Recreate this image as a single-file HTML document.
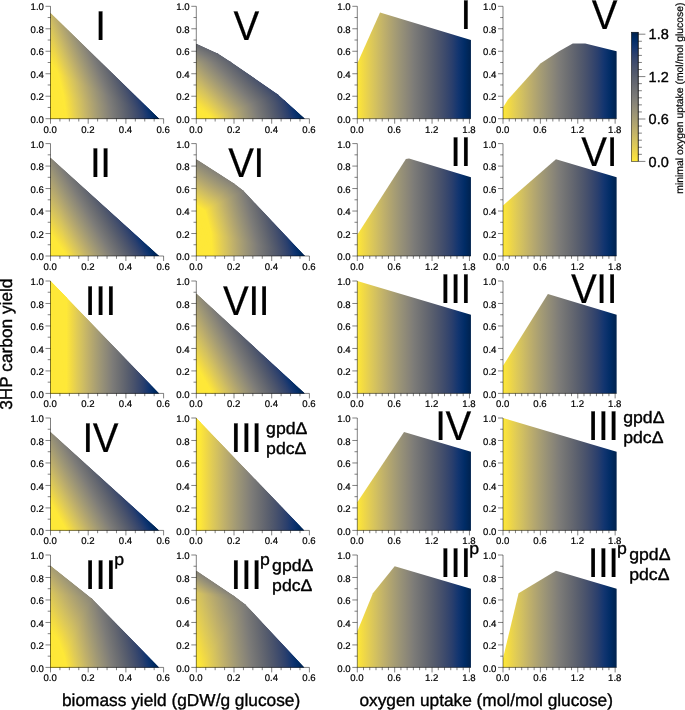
<!DOCTYPE html>
<html><head><meta charset="utf-8"><title>3HP yield phase planes</title>
<style>
html,body{margin:0;padding:0;background:#fff}
svg{display:block}
text{font-family:"Liberation Sans",sans-serif;fill:#000;text-rendering:geometricPrecision}
.tk text{font-size:9.6px;stroke:#000;stroke-width:0.2px}
.big{font-size:41.5px;letter-spacing:-0.430px;stroke:#000;stroke-width:0.2px}
.sm{font-size:16.7px;stroke:#000;stroke-width:0.35px}
.cbt{font-size:14.5px;stroke:#000;stroke-width:0.35px}
.cbl{font-size:10.4px;stroke:#000;stroke-width:0.2px}
.al{font-size:17.3px;stroke:#000;stroke-width:0.35px}
</style></head>
<body>
<svg width="685" height="710" viewBox="0 0 685 710">
<rect width="685" height="710" fill="#fff"/>
<defs><linearGradient id="cv"><stop offset="0" stop-color="#fee838"/><stop offset="0.05556" stop-color="#f1d945"/><stop offset="0.1111" stop-color="#e1cc55"/><stop offset="0.1667" stop-color="#d2c060"/><stop offset="0.2222" stop-color="#c3b369"/><stop offset="0.2778" stop-color="#b4a76f"/><stop offset="0.3333" stop-color="#a59c74"/><stop offset="0.3889" stop-color="#979177"/><stop offset="0.4444" stop-color="#8a8678"/><stop offset="0.5" stop-color="#7c7b78"/><stop offset="0.5556" stop-color="#707173"/><stop offset="0.6111" stop-color="#646770"/><stop offset="0.6667" stop-color="#575d6d"/><stop offset="0.7222" stop-color="#4a536c"/><stop offset="0.7778" stop-color="#3b496c"/><stop offset="0.8333" stop-color="#2a3f6d"/><stop offset="0.8889" stop-color="#123570"/><stop offset="0.9444" stop-color="#002c66"/><stop offset="1" stop-color="#00224e"/></linearGradient>
<clipPath id="c0_0"><polygon points="50.50,118.70 50.50,12.93 159.08,118.70"/></clipPath>
<linearGradient id="g1" href="#cv" gradientUnits="userSpaceOnUse" x1="30.25" y1="-7.77" x2="122.37" y2="-31.43"/>
<linearGradient id="g2" href="#cv" gradientUnits="userSpaceOnUse" x1="5.91" y1="-3.97" x2="115.99" y2="-77.81"/>
<linearGradient id="g3" href="#cv" gradientUnits="userSpaceOnUse" x1="24.01" y1="-9.78" x2="94.96" y2="-38.69"/>
<linearGradient id="g4" href="#cv" gradientUnits="userSpaceOnUse" x1="50.79" y1="-6.39" x2="141.90" y2="-17.85"/>
<linearGradient id="g5" href="#cv" gradientUnits="userSpaceOnUse" x1="37.14" y1="-9.34" x2="121.53" y2="-30.57"/>
<clipPath id="c0_1"><polygon points="196.30,118.70 196.30,43.73 218.07,53.73 230.42,61.71 277.54,94.20 284.89,100.72 304.88,118.70"/></clipPath>
<linearGradient id="g6" href="#cv" gradientUnits="userSpaceOnUse" x1="55.09" y1="-49.26" x2="116.33" y2="-104.01"/>
<linearGradient id="g7" href="#cv" gradientUnits="userSpaceOnUse" x1="14.22" y1="-20.27" x2="98.56" y2="-140.50"/>
<linearGradient id="g8" href="#cv" gradientUnits="userSpaceOnUse" x1="30.18" y1="-35.62" x2="92.40" y2="-109.06"/>
<linearGradient id="g9" href="#cv" gradientUnits="userSpaceOnUse" x1="9.93" y1="-17.49" x2="42.21" y2="-74.33"/>
<linearGradient id="g10" href="#cv" gradientUnits="userSpaceOnUse" x1="31.85" y1="-39.24" x2="77.41" y2="-95.36"/>
<linearGradient id="g11" href="#cv" gradientUnits="userSpaceOnUse" x1="50.47" y1="-48.77" x2="108.95" y2="-105.29"/>
<linearGradient id="g12" href="#cv" gradientUnits="userSpaceOnUse" x1="5.66" y1="-11.52" x2="30.36" y2="-61.83"/>
<linearGradient id="g13" href="#cv" gradientUnits="userSpaceOnUse" x1="52.99" y1="-50.04" x2="111.75" y2="-105.52"/>
<linearGradient id="g14" href="#cv" gradientUnits="userSpaceOnUse" x1="126.88" y1="-60.50" x2="205.70" y2="-98.08"/>
<linearGradient id="g15" href="#cv" gradientUnits="userSpaceOnUse" x1="165.77" y1="-46.67" x2="251.53" y2="-70.81"/>
<linearGradient id="g16" href="#cv" gradientUnits="userSpaceOnUse" x1="357.30" y1="0" x2="470.94" y2="0"/>
<linearGradient id="g17" href="#cv" gradientUnits="userSpaceOnUse" x1="503.00" y1="0" x2="616.64" y2="0"/>
<clipPath id="c1_0"><polygon points="50.50,256.00 50.50,157.76 159.08,256.00"/></clipPath>
<linearGradient id="g18" href="#cv" gradientUnits="userSpaceOnUse" x1="-59.97" y1="31.90" x2="18.71" y2="-9.95"/>
<linearGradient id="g19" href="#cv" gradientUnits="userSpaceOnUse" x1="-76.88" y1="54.80" x2="4.75" y2="-3.39"/>
<linearGradient id="g20" href="#cv" gradientUnits="userSpaceOnUse" x1="-60.82" y1="35.05" x2="8.66" y2="-4.99"/>
<clipPath id="c1_1"><polygon points="196.30,256.00 196.30,159.34 234.00,183.50 243.43,190.81 304.88,256.00"/></clipPath>
<linearGradient id="g21" href="#cv" gradientUnits="userSpaceOnUse" x1="88.57" y1="-36.98" x2="175.81" y2="-73.40"/>
<linearGradient id="g22" href="#cv" gradientUnits="userSpaceOnUse" x1="-36.16" y1="56.41" x2="8.77" y2="-13.68"/>
<linearGradient id="g23" href="#cv" gradientUnits="userSpaceOnUse" x1="-34.70" y1="52.37" x2="11.63" y2="-17.56"/>
<linearGradient id="g24" href="#cv" gradientUnits="userSpaceOnUse" x1="12.94" y1="-11.17" x2="78.09" y2="-67.42"/>
<linearGradient id="g25" href="#cv" gradientUnits="userSpaceOnUse" x1="135.97" y1="-37.63" x2="219.26" y2="-60.67"/>
<linearGradient id="g26" href="#cv" gradientUnits="userSpaceOnUse" x1="141.26" y1="-36.49" x2="223.82" y2="-57.81"/>
<linearGradient id="g27" href="#cv" gradientUnits="userSpaceOnUse" x1="196.62" y1="-11.54" x2="288.85" y2="-16.95"/>
<linearGradient id="g28" href="#cv" gradientUnits="userSpaceOnUse" x1="357.30" y1="0" x2="470.94" y2="0"/>
<linearGradient id="g29" href="#cv" gradientUnits="userSpaceOnUse" x1="503.00" y1="0" x2="616.64" y2="0"/>
<clipPath id="c2_0"><polygon points="50.50,393.40 50.50,281.00 159.08,393.40"/></clipPath>
<linearGradient id="g30" href="#cv" gradientUnits="userSpaceOnUse" x1="57.87" y1="-0.00" x2="161.63" y2="-0.00"/>
<linearGradient id="g31" href="#cv" gradientUnits="userSpaceOnUse" x1="66.52" y1="-0.00" x2="159.08" y2="-0.00"/>
<clipPath id="c2_1"><polygon points="196.30,393.40 196.30,293.59 304.88,393.40"/></clipPath>
<linearGradient id="g32" href="#cv" gradientUnits="userSpaceOnUse" x1="14.51" y1="-6.91" x2="96.50" y2="-45.99"/>
<linearGradient id="g33" href="#cv" gradientUnits="userSpaceOnUse" x1="-12.38" y1="7.20" x2="67.21" y2="-39.10"/>
<linearGradient id="g34" href="#cv" gradientUnits="userSpaceOnUse" x1="4.05" y1="-2.13" x2="76.51" y2="-40.29"/>
<linearGradient id="g35" href="#cv" gradientUnits="userSpaceOnUse" x1="357.30" y1="0" x2="470.94" y2="0"/>
<linearGradient id="g36" href="#cv" gradientUnits="userSpaceOnUse" x1="503.00" y1="0" x2="616.64" y2="0"/>
<clipPath id="c3_0"><polygon points="50.50,530.40 50.50,432.05 159.08,530.40"/></clipPath>
<linearGradient id="g37" href="#cv" gradientUnits="userSpaceOnUse" x1="-164.20" y1="82.00" x2="-83.88" y2="41.89"/>
<linearGradient id="g38" href="#cv" gradientUnits="userSpaceOnUse" x1="-178.03" y1="101.51" x2="-104.51" y2="59.59"/>
<linearGradient id="g39" href="#cv" gradientUnits="userSpaceOnUse" x1="-172.86" y1="95.05" x2="-101.79" y2="55.97"/>
<clipPath id="c3_1"><polygon points="196.30,530.40 196.30,418.00 304.31,530.40"/></clipPath>
<linearGradient id="g40" href="#cv" gradientUnits="userSpaceOnUse" x1="198.15" y1="0.00" x2="304.44" y2="0.00"/>
<linearGradient id="g41" href="#cv" gradientUnits="userSpaceOnUse" x1="200.07" y1="-0.00" x2="304.31" y2="-0.00"/>
<linearGradient id="g42" href="#cv" gradientUnits="userSpaceOnUse" x1="357.30" y1="0" x2="470.94" y2="0"/>
<linearGradient id="g43" href="#cv" gradientUnits="userSpaceOnUse" x1="503.00" y1="0" x2="616.64" y2="0"/>
<clipPath id="c4_0"><polygon points="50.50,667.40 50.50,565.68 91.97,598.84 159.08,667.40"/></clipPath>
<linearGradient id="g44" href="#cv" gradientUnits="userSpaceOnUse" x1="-155.44" y1="55.29" x2="-64.88" y2="23.08"/>
<linearGradient id="g45" href="#cv" gradientUnits="userSpaceOnUse" x1="-281.23" y1="235.82" x2="-143.95" y2="120.71"/>
<linearGradient id="g46" href="#cv" gradientUnits="userSpaceOnUse" x1="-272.96" y1="231.52" x2="-202.17" y2="171.47"/>
<linearGradient id="g47" href="#cv" gradientUnits="userSpaceOnUse" x1="-219.78" y1="116.55" x2="-120.15" y2="63.72"/>
<linearGradient id="g48" href="#cv" gradientUnits="userSpaceOnUse" x1="-81.82" y1="18.71" x2="7.29" y2="-1.67"/>
<linearGradient id="g49" href="#cv" gradientUnits="userSpaceOnUse" x1="-77.14" y1="17.04" x2="11.10" y2="-2.45"/>
<linearGradient id="g50" href="#cv" gradientUnits="userSpaceOnUse" x1="-165.08" y1="63.89" x2="-65.89" y2="25.50"/>
<clipPath id="c4_1"><polygon points="196.30,667.40 196.30,570.74 234.00,596.03 245.31,604.46 304.31,667.40"/></clipPath>
<linearGradient id="g51" href="#cv" gradientUnits="userSpaceOnUse" x1="-37.33" y1="13.47" x2="63.49" y2="-22.91"/>
<linearGradient id="g52" href="#cv" gradientUnits="userSpaceOnUse" x1="-67.82" y1="28.44" x2="101.78" y2="-42.67"/>
<linearGradient id="g53" href="#cv" gradientUnits="userSpaceOnUse" x1="-217.86" y1="324.76" x2="-186.24" y2="277.63"/>
<linearGradient id="g54" href="#cv" gradientUnits="userSpaceOnUse" x1="-187.80" y1="160.20" x2="-125.68" y2="107.21"/>
<linearGradient id="g55" href="#cv" gradientUnits="userSpaceOnUse" x1="11.35" y1="-3.19" x2="127.00" y2="-35.74"/>
<linearGradient id="g56" href="#cv" gradientUnits="userSpaceOnUse" x1="120.63" y1="-14.06" x2="223.47" y2="-26.05"/>
<linearGradient id="g57" href="#cv" gradientUnits="userSpaceOnUse" x1="357.30" y1="0" x2="470.94" y2="0"/>
<linearGradient id="g58" href="#cv" gradientUnits="userSpaceOnUse" x1="503.00" y1="0" x2="616.64" y2="0"/>
<linearGradient id="cb" href="#cv" gradientUnits="userSpaceOnUse" x1="0" y1="161.40" x2="0" y2="32.50"/></defs>
<g clip-path="url(#c0_0)"><polygon points="50.50,118.70 50.50,12.93 159.08,118.70" fill="url(#g1)"/><polygon points="50.50,118.70 50.50,62.50 66.52,118.70" fill="#fee838" stroke="#fee838" stroke-width="1.6"/><polygon points="50.50,118.70 50.50,62.50 63.70,96.22" fill="#fee838" stroke="#fee838" stroke-width="1.6"/><polygon points="50.50,118.70 50.50,62.50 58.04,73.74" fill="#fee838" stroke="#fee838" stroke-width="1.6"/><polygon points="50.50,118.70 66.52,118.70 63.70,96.22" fill="#fee838" stroke="#fee838" stroke-width="1.6"/><polygon points="50.50,118.70 66.52,118.70 58.04,73.74" fill="#fee838" stroke="#fee838" stroke-width="1.6"/><polygon points="50.50,118.70 63.70,96.22 58.04,73.74" fill="#fee838" stroke="#fee838" stroke-width="1.6"/><polygon points="50.50,62.50 50.50,12.93 58.04,73.74" fill="url(#g2)" stroke="url(#g2)" stroke-width="1.6"/><polygon points="50.50,62.50 66.52,118.70 63.70,96.22" fill="#fee838" stroke="#fee838" stroke-width="1.6"/><polygon points="50.50,62.50 66.52,118.70 58.04,73.74" fill="#fee838" stroke="#fee838" stroke-width="1.6"/><polygon points="50.50,62.50 63.70,96.22 58.04,73.74" fill="#fee838" stroke="#fee838" stroke-width="1.6"/><polygon points="50.50,12.93 58.04,73.74 159.08,118.70" fill="url(#g3)" stroke="url(#g3)" stroke-width="1.6"/><polygon points="66.52,118.70 63.70,96.22 58.04,73.74" fill="#fee838" stroke="#fee838" stroke-width="1.6"/><polygon points="66.52,118.70 63.70,96.22 159.08,118.70" fill="url(#g4)" stroke="url(#g4)" stroke-width="1.6"/><polygon points="63.70,96.22 58.04,73.74 159.08,118.70" fill="url(#g5)" stroke="url(#g5)" stroke-width="1.6"/></g>
<path d="M50.50 6.30V118.70H163.60M50.50 118.70h-5.0M50.50 107.46h-2.8M50.50 96.22h-5.0M50.50 84.98h-2.8M50.50 73.74h-5.0M50.50 62.50h-2.8M50.50 51.26h-5.0M50.50 40.02h-2.8M50.50 28.78h-5.0M50.50 17.54h-2.8M50.50 6.30h-5.0M50.50 118.70v5.0M59.92 118.70v2.8M69.35 118.70v2.8M78.78 118.70v2.8M88.20 118.70v5.0M97.62 118.70v2.8M107.05 118.70v2.8M116.47 118.70v2.8M125.90 118.70v5.0M135.32 118.70v2.8M144.75 118.70v2.8M154.17 118.70v2.8M163.60 118.70v5.0" fill="none" stroke="#000" stroke-width="0.5"/><g class="tk"><text x="43.90" y="122.80" text-anchor="end">0.0</text><text x="43.90" y="100.32" text-anchor="end">0.2</text><text x="43.90" y="77.84" text-anchor="end">0.4</text><text x="43.90" y="55.36" text-anchor="end">0.6</text><text x="43.90" y="32.88" text-anchor="end">0.8</text><text x="43.90" y="10.40" text-anchor="end">1.0</text><text x="50.10" y="132.60" text-anchor="middle">0.0</text><text x="87.80" y="132.60" text-anchor="middle">0.2</text><text x="125.50" y="132.60" text-anchor="middle">0.4</text><text x="163.20" y="132.60" text-anchor="middle">0.6</text></g>
<text class="big" transform="translate(95.14 39.90) scale(0.930 1)">I</text>
<g clip-path="url(#c0_1)"><polygon points="196.30,118.70 196.30,43.73 218.07,53.73 230.42,61.71 277.54,94.20 284.89,100.72 304.88,118.70" fill="url(#g6)"/><polygon points="196.30,118.70 196.30,107.46 212.32,118.70" fill="#fee838" stroke="#fee838" stroke-width="1.6"/><polygon points="196.30,107.46 196.30,99.59 212.32,118.70" fill="url(#g7)" stroke="url(#g7)" stroke-width="1.6"/><polygon points="196.30,99.59 196.30,63.62 212.32,118.70" fill="url(#g8)" stroke="url(#g8)" stroke-width="1.6"/><polygon points="196.30,63.62 196.30,51.26 218.07,53.73" fill="url(#g9)" stroke="url(#g9)" stroke-width="1.6"/><polygon points="196.30,63.62 218.07,53.73 230.42,61.71" fill="url(#g10)" stroke="url(#g10)" stroke-width="1.6"/><polygon points="196.30,63.62 230.42,61.71 212.32,118.70" fill="url(#g11)" stroke="url(#g11)" stroke-width="1.6"/><polygon points="196.30,51.26 196.30,43.73 218.07,53.73" fill="url(#g12)" stroke="url(#g12)" stroke-width="1.6"/><polygon points="230.42,61.71 277.54,94.20 212.32,118.70" fill="url(#g13)" stroke="url(#g13)" stroke-width="1.6"/><polygon points="277.54,94.20 284.89,100.72 212.32,118.70" fill="url(#g14)" stroke="url(#g14)" stroke-width="1.6"/><polygon points="284.89,100.72 212.32,118.70 304.88,118.70" fill="url(#g15)" stroke="url(#g15)" stroke-width="1.6"/></g>
<path d="M196.30 6.30V118.70H309.40M196.30 118.70h-5.0M196.30 107.46h-2.8M196.30 96.22h-5.0M196.30 84.98h-2.8M196.30 73.74h-5.0M196.30 62.50h-2.8M196.30 51.26h-5.0M196.30 40.02h-2.8M196.30 28.78h-5.0M196.30 17.54h-2.8M196.30 6.30h-5.0M196.30 118.70v5.0M205.73 118.70v2.8M215.15 118.70v2.8M224.58 118.70v2.8M234.00 118.70v5.0M243.43 118.70v2.8M252.85 118.70v2.8M262.27 118.70v2.8M271.70 118.70v5.0M281.12 118.70v2.8M290.55 118.70v2.8M299.98 118.70v2.8M309.40 118.70v5.0" fill="none" stroke="#000" stroke-width="0.5"/><g class="tk"><text x="189.70" y="122.80" text-anchor="end">0.0</text><text x="189.70" y="100.32" text-anchor="end">0.2</text><text x="189.70" y="77.84" text-anchor="end">0.4</text><text x="189.70" y="55.36" text-anchor="end">0.6</text><text x="189.70" y="32.88" text-anchor="end">0.8</text><text x="189.70" y="10.40" text-anchor="end">1.0</text><text x="195.90" y="132.60" text-anchor="middle">0.0</text><text x="233.60" y="132.60" text-anchor="middle">0.2</text><text x="271.30" y="132.60" text-anchor="middle">0.4</text><text x="309.00" y="132.60" text-anchor="middle">0.6</text></g>
<text class="big" transform="translate(233.43 39.90) scale(0.930 1)">V</text>
<polygon points="357.30,118.70 357.30,63.62 380.04,12.59 470.94,40.02 470.94,118.70" fill="url(#g16)"/>
<path d="M357.30 6.30V118.70H470.94M357.30 118.70h-5.0M357.30 107.46h-2.8M357.30 96.22h-5.0M357.30 84.98h-2.8M357.30 73.74h-5.0M357.30 62.50h-2.8M357.30 51.26h-5.0M357.30 40.02h-2.8M357.30 28.78h-5.0M357.30 17.54h-2.8M357.30 6.30h-5.0M357.30 118.70v5.0M363.53 118.70v2.8M369.76 118.70v2.8M375.99 118.70v2.8M382.22 118.70v2.8M388.45 118.70v2.8M394.68 118.70v5.0M400.91 118.70v2.8M407.14 118.70v2.8M413.37 118.70v2.8M419.60 118.70v2.8M425.83 118.70v2.8M432.06 118.70v5.0M438.29 118.70v2.8M444.52 118.70v2.8M450.75 118.70v2.8M456.98 118.70v2.8M463.21 118.70v2.8M469.44 118.70v5.0" fill="none" stroke="#000" stroke-width="0.5"/><g class="tk"><text x="350.70" y="122.80" text-anchor="end">0.0</text><text x="350.70" y="100.32" text-anchor="end">0.2</text><text x="350.70" y="77.84" text-anchor="end">0.4</text><text x="350.70" y="55.36" text-anchor="end">0.6</text><text x="350.70" y="32.88" text-anchor="end">0.8</text><text x="350.70" y="10.40" text-anchor="end">1.0</text><text x="356.90" y="132.60" text-anchor="middle">0.0</text><text x="394.28" y="132.60" text-anchor="middle">0.6</text><text x="431.66" y="132.60" text-anchor="middle">1.2</text><text x="469.04" y="132.60" text-anchor="middle">1.8</text></g>
<text class="big" transform="translate(460.57 28.70) scale(0.930 1)">I</text>
<polygon points="503.00,118.70 503.00,107.46 507.98,99.59 540.38,63.62 559.07,51.26 572.78,43.39 585.24,43.39 616.64,51.26 616.64,118.70" fill="url(#g17)"/>
<path d="M503.00 6.30V118.70H616.64M503.00 118.70h-5.0M503.00 107.46h-2.8M503.00 96.22h-5.0M503.00 84.98h-2.8M503.00 73.74h-5.0M503.00 62.50h-2.8M503.00 51.26h-5.0M503.00 40.02h-2.8M503.00 28.78h-5.0M503.00 17.54h-2.8M503.00 6.30h-5.0M503.00 118.70v5.0M509.23 118.70v2.8M515.46 118.70v2.8M521.69 118.70v2.8M527.92 118.70v2.8M534.15 118.70v2.8M540.38 118.70v5.0M546.61 118.70v2.8M552.84 118.70v2.8M559.07 118.70v2.8M565.30 118.70v2.8M571.53 118.70v2.8M577.76 118.70v5.0M583.99 118.70v2.8M590.22 118.70v2.8M596.45 118.70v2.8M602.68 118.70v2.8M608.91 118.70v2.8M615.14 118.70v5.0" fill="none" stroke="#000" stroke-width="0.5"/><g class="tk"><text x="496.40" y="122.80" text-anchor="end">0.0</text><text x="496.40" y="100.32" text-anchor="end">0.2</text><text x="496.40" y="77.84" text-anchor="end">0.4</text><text x="496.40" y="55.36" text-anchor="end">0.6</text><text x="496.40" y="32.88" text-anchor="end">0.8</text><text x="496.40" y="10.40" text-anchor="end">1.0</text><text x="502.60" y="132.60" text-anchor="middle">0.0</text><text x="539.98" y="132.60" text-anchor="middle">0.6</text><text x="577.36" y="132.60" text-anchor="middle">1.2</text><text x="614.74" y="132.60" text-anchor="middle">1.8</text></g>
<text class="big" transform="translate(591.66 28.70) scale(0.930 1)">V</text>
<g clip-path="url(#c1_0)"><polygon points="50.50,256.00 50.50,157.76 159.08,256.00" fill="url(#g18)"/><polygon points="50.50,256.00 50.50,233.52 66.52,256.00" fill="#fee838" stroke="#fee838" stroke-width="1.6"/><polygon points="50.50,233.52 50.50,157.76 66.52,256.00" fill="url(#g19)" stroke="url(#g19)" stroke-width="1.6"/><polygon points="50.50,157.76 66.52,256.00 159.08,256.00" fill="url(#g20)" stroke="url(#g20)" stroke-width="1.6"/></g>
<path d="M50.50 143.60V256.00H163.60M50.50 256.00h-5.0M50.50 244.76h-2.8M50.50 233.52h-5.0M50.50 222.28h-2.8M50.50 211.04h-5.0M50.50 199.80h-2.8M50.50 188.56h-5.0M50.50 177.32h-2.8M50.50 166.08h-5.0M50.50 154.84h-2.8M50.50 143.60h-5.0M50.50 256.00v5.0M59.92 256.00v2.8M69.35 256.00v2.8M78.78 256.00v2.8M88.20 256.00v5.0M97.62 256.00v2.8M107.05 256.00v2.8M116.47 256.00v2.8M125.90 256.00v5.0M135.32 256.00v2.8M144.75 256.00v2.8M154.17 256.00v2.8M163.60 256.00v5.0" fill="none" stroke="#000" stroke-width="0.5"/><g class="tk"><text x="43.90" y="260.10" text-anchor="end">0.0</text><text x="43.90" y="237.62" text-anchor="end">0.2</text><text x="43.90" y="215.14" text-anchor="end">0.4</text><text x="43.90" y="192.66" text-anchor="end">0.6</text><text x="43.90" y="170.18" text-anchor="end">0.8</text><text x="43.90" y="147.70" text-anchor="end">1.0</text><text x="50.10" y="269.90" text-anchor="middle">0.0</text><text x="87.80" y="269.90" text-anchor="middle">0.2</text><text x="125.50" y="269.90" text-anchor="middle">0.4</text><text x="163.20" y="269.90" text-anchor="middle">0.6</text></g>
<text class="big" transform="translate(89.97 177.20) scale(0.930 1)">II</text>
<g clip-path="url(#c1_1)"><polygon points="196.30,256.00 196.30,159.34 234.00,183.50 243.43,190.81 304.88,256.00" fill="url(#g21)"/><polygon points="196.30,256.00 196.30,205.42 212.32,256.00" fill="#fee838" stroke="#fee838" stroke-width="1.6"/><polygon points="196.30,256.00 196.30,205.42 211.00,233.52" fill="#fee838" stroke="#fee838" stroke-width="1.6"/><polygon points="196.30,256.00 196.30,205.42 204.78,211.04" fill="#fee838" stroke="#fee838" stroke-width="1.6"/><polygon points="196.30,256.00 212.32,256.00 211.00,233.52" fill="#fee838" stroke="#fee838" stroke-width="1.6"/><polygon points="196.30,256.00 212.32,256.00 204.78,211.04" fill="#fee838" stroke="#fee838" stroke-width="1.6"/><polygon points="196.30,256.00 211.00,233.52 204.78,211.04" fill="#fee838" stroke="#fee838" stroke-width="1.6"/><polygon points="196.30,205.42 196.30,159.34 234.00,183.50" fill="url(#g22)" stroke="url(#g22)" stroke-width="1.6"/><polygon points="196.30,205.42 234.00,183.50 204.78,211.04" fill="url(#g23)" stroke="url(#g23)" stroke-width="1.6"/><polygon points="196.30,205.42 212.32,256.00 211.00,233.52" fill="#fee838" stroke="#fee838" stroke-width="1.6"/><polygon points="196.30,205.42 212.32,256.00 204.78,211.04" fill="#fee838" stroke="#fee838" stroke-width="1.6"/><polygon points="196.30,205.42 211.00,233.52 204.78,211.04" fill="#fee838" stroke="#fee838" stroke-width="1.6"/><polygon points="234.00,183.50 243.43,190.81 204.78,211.04" fill="url(#g24)" stroke="url(#g24)" stroke-width="1.6"/><polygon points="243.43,190.81 211.00,233.52 204.78,211.04" fill="url(#g25)" stroke="url(#g25)" stroke-width="1.6"/><polygon points="243.43,190.81 211.00,233.52 304.88,256.00" fill="url(#g26)" stroke="url(#g26)" stroke-width="1.6"/><polygon points="212.32,256.00 211.00,233.52 204.78,211.04" fill="#fee838" stroke="#fee838" stroke-width="1.6"/><polygon points="212.32,256.00 211.00,233.52 304.88,256.00" fill="url(#g27)" stroke="url(#g27)" stroke-width="1.6"/></g>
<path d="M196.30 143.60V256.00H309.40M196.30 256.00h-5.0M196.30 244.76h-2.8M196.30 233.52h-5.0M196.30 222.28h-2.8M196.30 211.04h-5.0M196.30 199.80h-2.8M196.30 188.56h-5.0M196.30 177.32h-2.8M196.30 166.08h-5.0M196.30 154.84h-2.8M196.30 143.60h-5.0M196.30 256.00v5.0M205.73 256.00v2.8M215.15 256.00v2.8M224.58 256.00v2.8M234.00 256.00v5.0M243.43 256.00v2.8M252.85 256.00v2.8M262.27 256.00v2.8M271.70 256.00v5.0M281.12 256.00v2.8M290.55 256.00v2.8M299.98 256.00v2.8M309.40 256.00v5.0" fill="none" stroke="#000" stroke-width="0.5"/><g class="tk"><text x="189.70" y="260.10" text-anchor="end">0.0</text><text x="189.70" y="237.62" text-anchor="end">0.2</text><text x="189.70" y="215.14" text-anchor="end">0.4</text><text x="189.70" y="192.66" text-anchor="end">0.6</text><text x="189.70" y="170.18" text-anchor="end">0.8</text><text x="189.70" y="147.70" text-anchor="end">1.0</text><text x="195.90" y="269.90" text-anchor="middle">0.0</text><text x="233.60" y="269.90" text-anchor="middle">0.2</text><text x="271.30" y="269.90" text-anchor="middle">0.4</text><text x="309.00" y="269.90" text-anchor="middle">0.6</text></g>
<text class="big" transform="translate(228.26 177.20) scale(0.930 1)">VI</text>
<polygon points="357.30,256.00 357.30,234.64 405.89,159.11 409.01,158.44 470.94,177.32 470.94,256.00" fill="url(#g28)"/>
<path d="M357.30 143.60V256.00H470.94M357.30 256.00h-5.0M357.30 244.76h-2.8M357.30 233.52h-5.0M357.30 222.28h-2.8M357.30 211.04h-5.0M357.30 199.80h-2.8M357.30 188.56h-5.0M357.30 177.32h-2.8M357.30 166.08h-5.0M357.30 154.84h-2.8M357.30 143.60h-5.0M357.30 256.00v5.0M363.53 256.00v2.8M369.76 256.00v2.8M375.99 256.00v2.8M382.22 256.00v2.8M388.45 256.00v2.8M394.68 256.00v5.0M400.91 256.00v2.8M407.14 256.00v2.8M413.37 256.00v2.8M419.60 256.00v2.8M425.83 256.00v2.8M432.06 256.00v5.0M438.29 256.00v2.8M444.52 256.00v2.8M450.75 256.00v2.8M456.98 256.00v2.8M463.21 256.00v2.8M469.44 256.00v5.0" fill="none" stroke="#000" stroke-width="0.5"/><g class="tk"><text x="350.70" y="260.10" text-anchor="end">0.0</text><text x="350.70" y="237.62" text-anchor="end">0.2</text><text x="350.70" y="215.14" text-anchor="end">0.4</text><text x="350.70" y="192.66" text-anchor="end">0.6</text><text x="350.70" y="170.18" text-anchor="end">0.8</text><text x="350.70" y="147.70" text-anchor="end">1.0</text><text x="356.90" y="269.90" text-anchor="middle">0.0</text><text x="394.28" y="269.90" text-anchor="middle">0.6</text><text x="431.66" y="269.90" text-anchor="middle">1.2</text><text x="469.04" y="269.90" text-anchor="middle">1.8</text></g>
<text class="big" transform="translate(450.24 166.00) scale(0.930 1)">II</text>
<polygon points="503.00,256.00 503.00,205.42 555.96,159.34 616.64,177.32 616.64,256.00" fill="url(#g29)"/>
<path d="M503.00 143.60V256.00H616.64M503.00 256.00h-5.0M503.00 244.76h-2.8M503.00 233.52h-5.0M503.00 222.28h-2.8M503.00 211.04h-5.0M503.00 199.80h-2.8M503.00 188.56h-5.0M503.00 177.32h-2.8M503.00 166.08h-5.0M503.00 154.84h-2.8M503.00 143.60h-5.0M503.00 256.00v5.0M509.23 256.00v2.8M515.46 256.00v2.8M521.69 256.00v2.8M527.92 256.00v2.8M534.15 256.00v2.8M540.38 256.00v5.0M546.61 256.00v2.8M552.84 256.00v2.8M559.07 256.00v2.8M565.30 256.00v2.8M571.53 256.00v2.8M577.76 256.00v5.0M583.99 256.00v2.8M590.22 256.00v2.8M596.45 256.00v2.8M602.68 256.00v2.8M608.91 256.00v2.8M615.14 256.00v5.0" fill="none" stroke="#000" stroke-width="0.5"/><g class="tk"><text x="496.40" y="260.10" text-anchor="end">0.0</text><text x="496.40" y="237.62" text-anchor="end">0.2</text><text x="496.40" y="215.14" text-anchor="end">0.4</text><text x="496.40" y="192.66" text-anchor="end">0.6</text><text x="496.40" y="170.18" text-anchor="end">0.8</text><text x="496.40" y="147.70" text-anchor="end">1.0</text><text x="502.60" y="269.90" text-anchor="middle">0.0</text><text x="539.98" y="269.90" text-anchor="middle">0.6</text><text x="577.36" y="269.90" text-anchor="middle">1.2</text><text x="614.74" y="269.90" text-anchor="middle">1.8</text></g>
<text class="big" transform="translate(581.33 166.00) scale(0.930 1)">VI</text>
<g clip-path="url(#c2_0)"><polygon points="50.50,393.40 50.50,281.00 159.08,393.40" fill="url(#g30)"/><polygon points="50.50,393.40 50.50,281.00 66.52,393.40" fill="#fee838" stroke="#fee838" stroke-width="1.6"/><polygon points="50.50,393.40 50.50,281.00 66.52,297.59" fill="#fee838" stroke="#fee838" stroke-width="1.6"/><polygon points="50.50,393.40 66.52,393.40 66.52,297.59" fill="#fee838" stroke="#fee838" stroke-width="1.6"/><polygon points="50.50,281.00 66.52,393.40 66.52,297.59" fill="#fee838" stroke="#fee838" stroke-width="1.6"/><polygon points="66.52,393.40 66.52,297.59 159.08,393.40" fill="url(#g31)" stroke="url(#g31)" stroke-width="1.6"/></g>
<path d="M50.50 281.00V393.40H163.60M50.50 393.40h-5.0M50.50 382.16h-2.8M50.50 370.92h-5.0M50.50 359.68h-2.8M50.50 348.44h-5.0M50.50 337.20h-2.8M50.50 325.96h-5.0M50.50 314.72h-2.8M50.50 303.48h-5.0M50.50 292.24h-2.8M50.50 281.00h-5.0M50.50 393.40v5.0M59.92 393.40v2.8M69.35 393.40v2.8M78.78 393.40v2.8M88.20 393.40v5.0M97.62 393.40v2.8M107.05 393.40v2.8M116.47 393.40v2.8M125.90 393.40v5.0M135.32 393.40v2.8M144.75 393.40v2.8M154.17 393.40v2.8M163.60 393.40v5.0" fill="none" stroke="#000" stroke-width="0.5"/><g class="tk"><text x="43.90" y="397.50" text-anchor="end">0.0</text><text x="43.90" y="375.02" text-anchor="end">0.2</text><text x="43.90" y="352.54" text-anchor="end">0.4</text><text x="43.90" y="330.06" text-anchor="end">0.6</text><text x="43.90" y="307.58" text-anchor="end">0.8</text><text x="43.90" y="285.10" text-anchor="end">1.0</text><text x="50.10" y="407.30" text-anchor="middle">0.0</text><text x="87.80" y="407.30" text-anchor="middle">0.2</text><text x="125.50" y="407.30" text-anchor="middle">0.4</text><text x="163.20" y="407.30" text-anchor="middle">0.6</text></g>
<text class="big" transform="translate(84.81 314.60) scale(0.930 1)">III</text>
<g clip-path="url(#c2_1)"><polygon points="196.30,393.40 196.30,293.59 304.88,393.40" fill="url(#g32)"/><polygon points="196.30,393.40 196.30,365.86 212.32,393.40" fill="#fee838" stroke="#fee838" stroke-width="1.6"/><polygon points="196.30,365.86 196.30,293.59 212.32,393.40" fill="url(#g33)" stroke="url(#g33)" stroke-width="1.6"/><polygon points="196.30,293.59 212.32,393.40 304.88,393.40" fill="url(#g34)" stroke="url(#g34)" stroke-width="1.6"/></g>
<path d="M196.30 281.00V393.40H309.40M196.30 393.40h-5.0M196.30 382.16h-2.8M196.30 370.92h-5.0M196.30 359.68h-2.8M196.30 348.44h-5.0M196.30 337.20h-2.8M196.30 325.96h-5.0M196.30 314.72h-2.8M196.30 303.48h-5.0M196.30 292.24h-2.8M196.30 281.00h-5.0M196.30 393.40v5.0M205.73 393.40v2.8M215.15 393.40v2.8M224.58 393.40v2.8M234.00 393.40v5.0M243.43 393.40v2.8M252.85 393.40v2.8M262.27 393.40v2.8M271.70 393.40v5.0M281.12 393.40v2.8M290.55 393.40v2.8M299.98 393.40v2.8M309.40 393.40v5.0" fill="none" stroke="#000" stroke-width="0.5"/><g class="tk"><text x="189.70" y="397.50" text-anchor="end">0.0</text><text x="189.70" y="375.02" text-anchor="end">0.2</text><text x="189.70" y="352.54" text-anchor="end">0.4</text><text x="189.70" y="330.06" text-anchor="end">0.6</text><text x="189.70" y="307.58" text-anchor="end">0.8</text><text x="189.70" y="285.10" text-anchor="end">1.0</text><text x="195.90" y="407.30" text-anchor="middle">0.0</text><text x="233.60" y="407.30" text-anchor="middle">0.2</text><text x="271.30" y="407.30" text-anchor="middle">0.4</text><text x="309.00" y="407.30" text-anchor="middle">0.6</text></g>
<text class="big" transform="translate(223.10 314.60) scale(0.930 1)">VII</text>
<polygon points="357.30,393.40 357.30,281.00 470.94,314.72 470.94,393.40" fill="url(#g35)"/>
<path d="M357.30 281.00V393.40H470.94M357.30 393.40h-5.0M357.30 382.16h-2.8M357.30 370.92h-5.0M357.30 359.68h-2.8M357.30 348.44h-5.0M357.30 337.20h-2.8M357.30 325.96h-5.0M357.30 314.72h-2.8M357.30 303.48h-5.0M357.30 292.24h-2.8M357.30 281.00h-5.0M357.30 393.40v5.0M363.53 393.40v2.8M369.76 393.40v2.8M375.99 393.40v2.8M382.22 393.40v2.8M388.45 393.40v2.8M394.68 393.40v5.0M400.91 393.40v2.8M407.14 393.40v2.8M413.37 393.40v2.8M419.60 393.40v2.8M425.83 393.40v2.8M432.06 393.40v5.0M438.29 393.40v2.8M444.52 393.40v2.8M450.75 393.40v2.8M456.98 393.40v2.8M463.21 393.40v2.8M469.44 393.40v5.0" fill="none" stroke="#000" stroke-width="0.5"/><g class="tk"><text x="350.70" y="397.50" text-anchor="end">0.0</text><text x="350.70" y="375.02" text-anchor="end">0.2</text><text x="350.70" y="352.54" text-anchor="end">0.4</text><text x="350.70" y="330.06" text-anchor="end">0.6</text><text x="350.70" y="307.58" text-anchor="end">0.8</text><text x="350.70" y="285.10" text-anchor="end">1.0</text><text x="356.90" y="407.30" text-anchor="middle">0.0</text><text x="394.28" y="407.30" text-anchor="middle">0.6</text><text x="431.66" y="407.30" text-anchor="middle">1.2</text><text x="469.04" y="407.30" text-anchor="middle">1.8</text></g>
<text class="big" transform="translate(439.91 303.40) scale(0.930 1)">III</text>
<polygon points="503.00,393.40 503.00,365.86 547.86,293.93 616.64,314.72 616.64,393.40" fill="url(#g36)"/>
<path d="M503.00 281.00V393.40H616.64M503.00 393.40h-5.0M503.00 382.16h-2.8M503.00 370.92h-5.0M503.00 359.68h-2.8M503.00 348.44h-5.0M503.00 337.20h-2.8M503.00 325.96h-5.0M503.00 314.72h-2.8M503.00 303.48h-5.0M503.00 292.24h-2.8M503.00 281.00h-5.0M503.00 393.40v5.0M509.23 393.40v2.8M515.46 393.40v2.8M521.69 393.40v2.8M527.92 393.40v2.8M534.15 393.40v2.8M540.38 393.40v5.0M546.61 393.40v2.8M552.84 393.40v2.8M559.07 393.40v2.8M565.30 393.40v2.8M571.53 393.40v2.8M577.76 393.40v5.0M583.99 393.40v2.8M590.22 393.40v2.8M596.45 393.40v2.8M602.68 393.40v2.8M608.91 393.40v2.8M615.14 393.40v5.0" fill="none" stroke="#000" stroke-width="0.5"/><g class="tk"><text x="496.40" y="397.50" text-anchor="end">0.0</text><text x="496.40" y="375.02" text-anchor="end">0.2</text><text x="496.40" y="352.54" text-anchor="end">0.4</text><text x="496.40" y="330.06" text-anchor="end">0.6</text><text x="496.40" y="307.58" text-anchor="end">0.8</text><text x="496.40" y="285.10" text-anchor="end">1.0</text><text x="502.60" y="407.30" text-anchor="middle">0.0</text><text x="539.98" y="407.30" text-anchor="middle">0.6</text><text x="577.36" y="407.30" text-anchor="middle">1.2</text><text x="614.74" y="407.30" text-anchor="middle">1.8</text></g>
<text class="big" transform="translate(571.00 303.40) scale(0.930 1)">VII</text>
<g clip-path="url(#c3_0)"><polygon points="50.50,530.40 50.50,432.05 159.08,530.40" fill="url(#g37)"/><polygon points="50.50,530.40 50.50,502.30 66.52,530.40" fill="#fee838" stroke="#fee838" stroke-width="1.6"/><polygon points="50.50,502.30 50.50,432.05 66.52,530.40" fill="url(#g38)" stroke="url(#g38)" stroke-width="1.6"/><polygon points="50.50,432.05 66.52,530.40 159.08,530.40" fill="url(#g39)" stroke="url(#g39)" stroke-width="1.6"/></g>
<path d="M50.50 418.00V530.40H163.60M50.50 530.40h-5.0M50.50 519.16h-2.8M50.50 507.92h-5.0M50.50 496.68h-2.8M50.50 485.44h-5.0M50.50 474.20h-2.8M50.50 462.96h-5.0M50.50 451.72h-2.8M50.50 440.48h-5.0M50.50 429.24h-2.8M50.50 418.00h-5.0M50.50 530.40v5.0M59.92 530.40v2.8M69.35 530.40v2.8M78.78 530.40v2.8M88.20 530.40v5.0M97.62 530.40v2.8M107.05 530.40v2.8M116.47 530.40v2.8M125.90 530.40v5.0M135.32 530.40v2.8M144.75 530.40v2.8M154.17 530.40v2.8M163.60 530.40v5.0" fill="none" stroke="#000" stroke-width="0.5"/><g class="tk"><text x="43.90" y="534.50" text-anchor="end">0.0</text><text x="43.90" y="512.02" text-anchor="end">0.2</text><text x="43.90" y="489.54" text-anchor="end">0.4</text><text x="43.90" y="467.06" text-anchor="end">0.6</text><text x="43.90" y="444.58" text-anchor="end">0.8</text><text x="43.90" y="422.10" text-anchor="end">1.0</text><text x="50.10" y="544.30" text-anchor="middle">0.0</text><text x="87.80" y="544.30" text-anchor="middle">0.2</text><text x="125.50" y="544.30" text-anchor="middle">0.4</text><text x="163.20" y="544.30" text-anchor="middle">0.6</text></g>
<text class="big" transform="translate(82.46 451.60) scale(0.930 1)">IV</text>
<g clip-path="url(#c3_1)"><polygon points="196.30,530.40 196.30,418.00 304.31,530.40" fill="url(#g40)"/><polygon points="196.30,530.40 196.30,418.00 200.07,530.40" fill="#fee838" stroke="#fee838" stroke-width="1.6"/><polygon points="196.30,530.40 196.30,418.00 200.07,421.92" fill="#fee838" stroke="#fee838" stroke-width="1.6"/><polygon points="196.30,530.40 200.07,530.40 200.07,421.92" fill="#fee838" stroke="#fee838" stroke-width="1.6"/><polygon points="196.30,418.00 200.07,530.40 200.07,421.92" fill="#fee838" stroke="#fee838" stroke-width="1.6"/><polygon points="200.07,530.40 200.07,421.92 304.31,530.40" fill="url(#g41)" stroke="url(#g41)" stroke-width="1.6"/></g>
<path d="M196.30 418.00V530.40H309.40M196.30 530.40h-5.0M196.30 519.16h-2.8M196.30 507.92h-5.0M196.30 496.68h-2.8M196.30 485.44h-5.0M196.30 474.20h-2.8M196.30 462.96h-5.0M196.30 451.72h-2.8M196.30 440.48h-5.0M196.30 429.24h-2.8M196.30 418.00h-5.0M196.30 530.40v5.0M205.73 530.40v2.8M215.15 530.40v2.8M224.58 530.40v2.8M234.00 530.40v5.0M243.43 530.40v2.8M252.85 530.40v2.8M262.27 530.40v2.8M271.70 530.40v5.0M281.12 530.40v2.8M290.55 530.40v2.8M299.98 530.40v2.8M309.40 530.40v5.0" fill="none" stroke="#000" stroke-width="0.5"/><g class="tk"><text x="189.70" y="534.50" text-anchor="end">0.0</text><text x="189.70" y="512.02" text-anchor="end">0.2</text><text x="189.70" y="489.54" text-anchor="end">0.4</text><text x="189.70" y="467.06" text-anchor="end">0.6</text><text x="189.70" y="444.58" text-anchor="end">0.8</text><text x="189.70" y="422.10" text-anchor="end">1.0</text><text x="195.90" y="544.30" text-anchor="middle">0.0</text><text x="233.60" y="544.30" text-anchor="middle">0.2</text><text x="271.30" y="544.30" text-anchor="middle">0.4</text><text x="309.00" y="544.30" text-anchor="middle">0.6</text></g>
<text class="big" transform="translate(230.61 451.60) scale(0.930 1)">III</text><text class="sm" transform="translate(266.04 434.20) scale(1.060 1)">gpdΔ</text><text class="sm" transform="translate(266.04 454.20) scale(1.060 1)">pdcΔ</text>
<polygon points="357.30,530.40 357.30,502.30 404.02,432.05 470.94,451.72 470.94,530.40" fill="url(#g42)"/>
<path d="M357.30 418.00V530.40H470.94M357.30 530.40h-5.0M357.30 519.16h-2.8M357.30 507.92h-5.0M357.30 496.68h-2.8M357.30 485.44h-5.0M357.30 474.20h-2.8M357.30 462.96h-5.0M357.30 451.72h-2.8M357.30 440.48h-5.0M357.30 429.24h-2.8M357.30 418.00h-5.0M357.30 530.40v5.0M363.53 530.40v2.8M369.76 530.40v2.8M375.99 530.40v2.8M382.22 530.40v2.8M388.45 530.40v2.8M394.68 530.40v5.0M400.91 530.40v2.8M407.14 530.40v2.8M413.37 530.40v2.8M419.60 530.40v2.8M425.83 530.40v2.8M432.06 530.40v5.0M438.29 530.40v2.8M444.52 530.40v2.8M450.75 530.40v2.8M456.98 530.40v2.8M463.21 530.40v2.8M469.44 530.40v5.0" fill="none" stroke="#000" stroke-width="0.5"/><g class="tk"><text x="350.70" y="534.50" text-anchor="end">0.0</text><text x="350.70" y="512.02" text-anchor="end">0.2</text><text x="350.70" y="489.54" text-anchor="end">0.4</text><text x="350.70" y="467.06" text-anchor="end">0.6</text><text x="350.70" y="444.58" text-anchor="end">0.8</text><text x="350.70" y="422.10" text-anchor="end">1.0</text><text x="356.90" y="544.30" text-anchor="middle">0.0</text><text x="394.28" y="544.30" text-anchor="middle">0.6</text><text x="431.66" y="544.30" text-anchor="middle">1.2</text><text x="469.04" y="544.30" text-anchor="middle">1.8</text></g>
<text class="big" transform="translate(435.23 440.40) scale(0.930 1)">IV</text>
<polygon points="503.00,530.40 503.00,418.00 616.64,451.72 616.64,530.40" fill="url(#g43)"/>
<path d="M503.00 418.00V530.40H616.64M503.00 530.40h-5.0M503.00 519.16h-2.8M503.00 507.92h-5.0M503.00 496.68h-2.8M503.00 485.44h-5.0M503.00 474.20h-2.8M503.00 462.96h-5.0M503.00 451.72h-2.8M503.00 440.48h-5.0M503.00 429.24h-2.8M503.00 418.00h-5.0M503.00 530.40v5.0M509.23 530.40v2.8M515.46 530.40v2.8M521.69 530.40v2.8M527.92 530.40v2.8M534.15 530.40v2.8M540.38 530.40v5.0M546.61 530.40v2.8M552.84 530.40v2.8M559.07 530.40v2.8M565.30 530.40v2.8M571.53 530.40v2.8M577.76 530.40v5.0M583.99 530.40v2.8M590.22 530.40v2.8M596.45 530.40v2.8M602.68 530.40v2.8M608.91 530.40v2.8M615.14 530.40v5.0" fill="none" stroke="#000" stroke-width="0.5"/><g class="tk"><text x="496.40" y="534.50" text-anchor="end">0.0</text><text x="496.40" y="512.02" text-anchor="end">0.2</text><text x="496.40" y="489.54" text-anchor="end">0.4</text><text x="496.40" y="467.06" text-anchor="end">0.6</text><text x="496.40" y="444.58" text-anchor="end">0.8</text><text x="496.40" y="422.10" text-anchor="end">1.0</text><text x="502.60" y="544.30" text-anchor="middle">0.0</text><text x="539.98" y="544.30" text-anchor="middle">0.6</text><text x="577.36" y="544.30" text-anchor="middle">1.2</text><text x="614.74" y="544.30" text-anchor="middle">1.8</text></g>
<text class="big" transform="translate(587.71 440.40) scale(0.930 1)">III</text><text class="sm" transform="translate(623.15 423.00) scale(1.060 1)">gpdΔ</text><text class="sm" transform="translate(623.15 443.00) scale(1.060 1)">pdcΔ</text>
<g clip-path="url(#c4_0)"><polygon points="50.50,667.40 50.50,565.68 91.97,598.84 159.08,667.40" fill="url(#g44)"/><polygon points="50.50,667.40 50.50,631.43 66.52,667.40" fill="#fee838" stroke="#fee838" stroke-width="1.6"/><polygon points="50.50,667.40 50.50,631.43 63.70,655.04" fill="#fee838" stroke="#fee838" stroke-width="1.6"/><polygon points="50.50,667.40 50.50,631.43 58.04,640.42" fill="#fee838" stroke="#fee838" stroke-width="1.6"/><polygon points="50.50,667.40 66.52,667.40 63.70,655.04" fill="#fee838" stroke="#fee838" stroke-width="1.6"/><polygon points="50.50,667.40 66.52,667.40 58.04,640.42" fill="#fee838" stroke="#fee838" stroke-width="1.6"/><polygon points="50.50,667.40 63.70,655.04 58.04,640.42" fill="#fee838" stroke="#fee838" stroke-width="1.6"/><polygon points="50.50,631.43 50.50,593.22 58.04,640.42" fill="url(#g45)" stroke="url(#g45)" stroke-width="1.6"/><polygon points="50.50,631.43 66.52,667.40 63.70,655.04" fill="#fee838" stroke="#fee838" stroke-width="1.6"/><polygon points="50.50,631.43 66.52,667.40 58.04,640.42" fill="#fee838" stroke="#fee838" stroke-width="1.6"/><polygon points="50.50,631.43 63.70,655.04 58.04,640.42" fill="#fee838" stroke="#fee838" stroke-width="1.6"/><polygon points="50.50,593.22 50.50,565.68 91.97,598.84" fill="url(#g46)" stroke="url(#g46)" stroke-width="1.6"/><polygon points="50.50,593.22 91.97,598.84 58.04,640.42" fill="url(#g47)" stroke="url(#g47)" stroke-width="1.6"/><polygon points="91.97,598.84 66.52,667.40 63.70,655.04" fill="url(#g48)" stroke="url(#g48)" stroke-width="1.6"/><polygon points="91.97,598.84 66.52,667.40 159.08,667.40" fill="url(#g49)" stroke="url(#g49)" stroke-width="1.6"/><polygon points="91.97,598.84 63.70,655.04 58.04,640.42" fill="url(#g50)" stroke="url(#g50)" stroke-width="1.6"/><polygon points="66.52,667.40 63.70,655.04 58.04,640.42" fill="#fee838" stroke="#fee838" stroke-width="1.6"/></g>
<path d="M50.50 555.00V667.40H163.60M50.50 667.40h-5.0M50.50 656.16h-2.8M50.50 644.92h-5.0M50.50 633.68h-2.8M50.50 622.44h-5.0M50.50 611.20h-2.8M50.50 599.96h-5.0M50.50 588.72h-2.8M50.50 577.48h-5.0M50.50 566.24h-2.8M50.50 555.00h-5.0M50.50 667.40v5.0M59.92 667.40v2.8M69.35 667.40v2.8M78.78 667.40v2.8M88.20 667.40v5.0M97.62 667.40v2.8M107.05 667.40v2.8M116.47 667.40v2.8M125.90 667.40v5.0M135.32 667.40v2.8M144.75 667.40v2.8M154.17 667.40v2.8M163.60 667.40v5.0" fill="none" stroke="#000" stroke-width="0.5"/><g class="tk"><text x="43.90" y="671.50" text-anchor="end">0.0</text><text x="43.90" y="649.02" text-anchor="end">0.2</text><text x="43.90" y="626.54" text-anchor="end">0.4</text><text x="43.90" y="604.06" text-anchor="end">0.6</text><text x="43.90" y="581.58" text-anchor="end">0.8</text><text x="43.90" y="559.10" text-anchor="end">1.0</text><text x="50.10" y="681.30" text-anchor="middle">0.0</text><text x="87.80" y="681.30" text-anchor="middle">0.2</text><text x="125.50" y="681.30" text-anchor="middle">0.4</text><text x="163.20" y="681.30" text-anchor="middle">0.6</text></g>
<text class="big" transform="translate(84.81 588.60) scale(0.930 1)">III</text><text class="sm" transform="translate(114.14 565.20) scale(1.060 1)">p</text>
<g clip-path="url(#c4_1)"><polygon points="196.30,667.40 196.30,570.74 234.00,596.03 245.31,604.46 304.31,667.40" fill="url(#g51)"/><polygon points="196.30,667.40 196.30,658.41 200.07,667.40" fill="#fee838" stroke="#fee838" stroke-width="1.6"/><polygon points="196.30,658.41 196.30,593.22 200.07,667.40" fill="url(#g52)" stroke="url(#g52)" stroke-width="1.6"/><polygon points="196.30,593.22 196.30,570.74 234.00,596.03" fill="url(#g53)" stroke="url(#g53)" stroke-width="1.6"/><polygon points="196.30,593.22 234.00,596.03 245.31,604.46" fill="url(#g54)" stroke="url(#g54)" stroke-width="1.6"/><polygon points="196.30,593.22 245.31,604.46 200.07,667.40" fill="url(#g55)" stroke="url(#g55)" stroke-width="1.6"/><polygon points="245.31,604.46 200.07,667.40 304.31,667.40" fill="url(#g56)" stroke="url(#g56)" stroke-width="1.6"/></g>
<path d="M196.30 555.00V667.40H309.40M196.30 667.40h-5.0M196.30 656.16h-2.8M196.30 644.92h-5.0M196.30 633.68h-2.8M196.30 622.44h-5.0M196.30 611.20h-2.8M196.30 599.96h-5.0M196.30 588.72h-2.8M196.30 577.48h-5.0M196.30 566.24h-2.8M196.30 555.00h-5.0M196.30 667.40v5.0M205.73 667.40v2.8M215.15 667.40v2.8M224.58 667.40v2.8M234.00 667.40v5.0M243.43 667.40v2.8M252.85 667.40v2.8M262.27 667.40v2.8M271.70 667.40v5.0M281.12 667.40v2.8M290.55 667.40v2.8M299.98 667.40v2.8M309.40 667.40v5.0" fill="none" stroke="#000" stroke-width="0.5"/><g class="tk"><text x="189.70" y="671.50" text-anchor="end">0.0</text><text x="189.70" y="649.02" text-anchor="end">0.2</text><text x="189.70" y="626.54" text-anchor="end">0.4</text><text x="189.70" y="604.06" text-anchor="end">0.6</text><text x="189.70" y="581.58" text-anchor="end">0.8</text><text x="189.70" y="559.10" text-anchor="end">1.0</text><text x="195.90" y="681.30" text-anchor="middle">0.0</text><text x="233.60" y="681.30" text-anchor="middle">0.2</text><text x="271.30" y="681.30" text-anchor="middle">0.4</text><text x="309.00" y="681.30" text-anchor="middle">0.6</text></g>
<text class="big" transform="translate(230.61 588.60) scale(0.930 1)">III</text><text class="sm" transform="translate(259.94 565.20) scale(1.060 1)">p</text><text class="sm" transform="translate(272.04 571.20) scale(1.060 1)">gpdΔ</text><text class="sm" transform="translate(272.04 591.20) scale(1.060 1)">pdcΔ</text>
<polygon points="357.30,667.40 357.30,631.43 372.88,593.22 394.68,566.24 470.94,588.72 470.94,667.40" fill="url(#g57)"/>
<path d="M357.30 555.00V667.40H470.94M357.30 667.40h-5.0M357.30 656.16h-2.8M357.30 644.92h-5.0M357.30 633.68h-2.8M357.30 622.44h-5.0M357.30 611.20h-2.8M357.30 599.96h-5.0M357.30 588.72h-2.8M357.30 577.48h-5.0M357.30 566.24h-2.8M357.30 555.00h-5.0M357.30 667.40v5.0M363.53 667.40v2.8M369.76 667.40v2.8M375.99 667.40v2.8M382.22 667.40v2.8M388.45 667.40v2.8M394.68 667.40v5.0M400.91 667.40v2.8M407.14 667.40v2.8M413.37 667.40v2.8M419.60 667.40v2.8M425.83 667.40v2.8M432.06 667.40v5.0M438.29 667.40v2.8M444.52 667.40v2.8M450.75 667.40v2.8M456.98 667.40v2.8M463.21 667.40v2.8M469.44 667.40v5.0" fill="none" stroke="#000" stroke-width="0.5"/><g class="tk"><text x="350.70" y="671.50" text-anchor="end">0.0</text><text x="350.70" y="649.02" text-anchor="end">0.2</text><text x="350.70" y="626.54" text-anchor="end">0.4</text><text x="350.70" y="604.06" text-anchor="end">0.6</text><text x="350.70" y="581.58" text-anchor="end">0.8</text><text x="350.70" y="559.10" text-anchor="end">1.0</text><text x="356.90" y="681.30" text-anchor="middle">0.0</text><text x="394.28" y="681.30" text-anchor="middle">0.6</text><text x="431.66" y="681.30" text-anchor="middle">1.2</text><text x="469.04" y="681.30" text-anchor="middle">1.8</text></g>
<text class="big" transform="translate(439.91 577.40) scale(0.930 1)">III</text><text class="sm" transform="translate(469.25 554.00) scale(1.060 1)">p</text>
<polygon points="503.00,667.40 503.00,658.41 518.58,593.22 555.96,570.74 616.64,588.72 616.64,667.40" fill="url(#g58)"/>
<path d="M503.00 555.00V667.40H616.64M503.00 667.40h-5.0M503.00 656.16h-2.8M503.00 644.92h-5.0M503.00 633.68h-2.8M503.00 622.44h-5.0M503.00 611.20h-2.8M503.00 599.96h-5.0M503.00 588.72h-2.8M503.00 577.48h-5.0M503.00 566.24h-2.8M503.00 555.00h-5.0M503.00 667.40v5.0M509.23 667.40v2.8M515.46 667.40v2.8M521.69 667.40v2.8M527.92 667.40v2.8M534.15 667.40v2.8M540.38 667.40v5.0M546.61 667.40v2.8M552.84 667.40v2.8M559.07 667.40v2.8M565.30 667.40v2.8M571.53 667.40v2.8M577.76 667.40v5.0M583.99 667.40v2.8M590.22 667.40v2.8M596.45 667.40v2.8M602.68 667.40v2.8M608.91 667.40v2.8M615.14 667.40v5.0" fill="none" stroke="#000" stroke-width="0.5"/><g class="tk"><text x="496.40" y="671.50" text-anchor="end">0.0</text><text x="496.40" y="649.02" text-anchor="end">0.2</text><text x="496.40" y="626.54" text-anchor="end">0.4</text><text x="496.40" y="604.06" text-anchor="end">0.6</text><text x="496.40" y="581.58" text-anchor="end">0.8</text><text x="496.40" y="559.10" text-anchor="end">1.0</text><text x="502.60" y="681.30" text-anchor="middle">0.0</text><text x="539.98" y="681.30" text-anchor="middle">0.6</text><text x="577.36" y="681.30" text-anchor="middle">1.2</text><text x="614.74" y="681.30" text-anchor="middle">1.8</text></g>
<text class="big" transform="translate(587.71 577.40) scale(0.930 1)">III</text><text class="sm" transform="translate(617.05 554.00) scale(1.060 1)">p</text><text class="sm" transform="translate(629.15 560.00) scale(1.060 1)">gpdΔ</text><text class="sm" transform="translate(629.15 580.00) scale(1.060 1)">pdcΔ</text>
<rect x="631.40" y="32.20" width="6.80" height="129.20" fill="url(#cb)" stroke="#000" stroke-width="0.5"/>
<path d="M638.20 32.20V161.40M638.20 161.40h7.2M638.20 154.33h3.7M638.20 147.27h3.7M638.20 140.20h3.7M638.20 133.13h3.7M638.20 126.06h3.7M638.20 119.00h7.2M638.20 111.93h3.7M638.20 104.86h3.7M638.20 97.80h3.7M638.20 90.73h3.7M638.20 83.66h3.7M638.20 76.60h7.2M638.20 69.53h3.7M638.20 62.46h3.7M638.20 55.40h3.7M638.20 48.33h3.7M638.20 41.26h3.7M638.20 34.19h7.2" fill="none" stroke="#000" stroke-width="0.5"/>
<text class="cbt" x="648.6" y="166.50">0.0</text>
<text class="cbt" x="648.6" y="124.10">0.6</text>
<text class="cbt" x="648.6" y="81.70">1.2</text>
<text class="cbt" x="648.6" y="39.29">1.8</text>
<text class="cbl" transform="translate(682.9 98.1) rotate(-90)" text-anchor="middle">minimal oxygen uptake (mol/mol glucose)</text>
<text class="al" transform="translate(12.4 344.2) rotate(-90)" text-anchor="middle">3HP carbon yield</text>
<text class="al" x="181.1" y="706.1" text-anchor="middle">biomass yield (gDW/g glucose)</text>
<text class="al" x="486.2" y="706.1" text-anchor="middle">oxygen uptake (mol/mol glucose)</text>
</svg>
</body></html>
